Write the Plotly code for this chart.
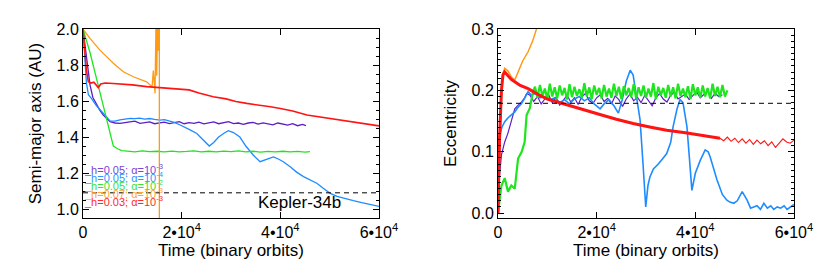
import plotly.graph_objects as go

# ---------------- data: semi-major axis (left panel) ----------------
a_purple_t = [0, 300, 740, 1420, 2000, 2760, 3400, 4110, 5480, 6500, 7500, 8500, 9530, 10500, 11560, 12500,
              13500, 14500, 15500, 16500, 17500, 18500, 19500, 20500, 21500, 22500, 23500, 24500, 25500, 26500,
              27500, 28500, 29500, 30500, 31500, 32500, 33500, 34500, 35500, 36500, 37500, 38500, 39500, 40500,
              41500, 42500, 43500, 44500, 45200]
a_purple = [2.0, 1.93, 1.84, 1.69, 1.62, 1.578, 1.55, 1.522, 1.485, 1.478, 1.476, 1.480, 1.485, 1.488, 1.476,
            1.478, 1.484, 1.474, 1.480, 1.483, 1.475, 1.479, 1.486, 1.474, 1.480, 1.476, 1.483, 1.473, 1.479,
            1.484, 1.474, 1.480, 1.486, 1.475, 1.478, 1.470, 1.478, 1.481, 1.472, 1.479, 1.474, 1.468, 1.478,
            1.470, 1.466, 1.474, 1.463, 1.470, 1.463]

a_blue_t = [0, 300, 700, 1100, 1700, 2700, 3430, 4500, 5480, 6500, 7500, 8500, 9530, 10500, 11500, 12500, 13500,
            14500, 15600, 16500, 17500, 18500, 19700, 20700, 21700, 23060, 24300, 25600, 26500, 27500, 28500,
            29450, 30500, 31800, 33000, 34500, 35900, 36800, 37700, 38600, 39600, 40600, 42000, 43300, 44700,
            46000, 47400, 48700, 50100, 51500, 53000, 54800, 56500, 58000, 60000]
a_blue = [2.0, 1.85, 1.70, 1.635, 1.615, 1.575, 1.55, 1.52, 1.49, 1.488, 1.495, 1.500, 1.504, 1.502, 1.505,
          1.500, 1.503, 1.498, 1.494, 1.497, 1.490, 1.482, 1.467, 1.455, 1.44, 1.42, 1.385, 1.35, 1.37, 1.40,
          1.42, 1.435, 1.425, 1.40, 1.35, 1.30, 1.263, 1.272, 1.283, 1.29, 1.278, 1.263, 1.235, 1.205, 1.18,
          1.16, 1.143, 1.115, 1.087, 1.07, 1.058, 1.046, 1.035, 1.027, 1.015]

a_green_t = [0, 700, 1420, 2500, 3500, 4500, 5500, 6150, 7000, 7850, 9000, 10500, 12000, 13500, 15000, 16500,
             18000, 19500, 21000, 22500, 24000, 25500, 27000, 28500, 30000, 31500, 33000, 34500, 36000, 37500,
             39000, 40500, 42000, 43500, 45000, 46000]
a_green = [2.0, 1.94, 1.87, 1.751, 1.641, 1.531, 1.421, 1.35, 1.335, 1.325, 1.322, 1.318, 1.323, 1.319, 1.321,
           1.317, 1.322, 1.318, 1.320, 1.323, 1.318, 1.321, 1.317, 1.322, 1.319, 1.323, 1.318, 1.321, 1.316,
           1.320, 1.318, 1.321, 1.317, 1.320, 1.316, 1.319]

a_orange_t = [0, 1420, 3430, 6150, 8170, 10200, 12900, 13700, 14000, 14260, 14450, 14600, 14800, 14950, 15100,
              15250, 15400, 15480, 15480]
a_orange = [2.0, 1.948, 1.883, 1.81, 1.763, 1.735, 1.707, 1.69, 1.68, 1.77, 1.66, 1.643, 2.05, 1.74, 2.05,
            1.88, 2.05, 2.05, 0.9]

a_red_t = [0, 300, 700, 1080, 1600, 2200, 2700, 3100, 3600, 4500, 6150, 8000, 10000, 12900, 15000, 17000, 19700,
           21500, 23500, 26400, 29000, 31000, 33200, 36000, 38000, 40000, 42500, 45400, 48000, 50100, 52500,
           54800, 57500, 59900, 60000]
a_red = [2.0, 1.90, 1.77, 1.707, 1.70, 1.705, 1.69, 1.675, 1.695, 1.70, 1.698, 1.695, 1.69, 1.68, 1.675, 1.672,
         1.665, 1.662, 1.645, 1.624, 1.612, 1.598, 1.587, 1.578, 1.568, 1.559, 1.545, 1.522, 1.512, 1.504, 1.495,
         1.485, 1.474, 1.463, 1.462]

# ---------------- data: eccentricity (right panel) ----------------
e_purple_t = [0, 300, 700, 1360, 2000, 2700, 3400, 4100, 4750, 5400, 5800,
              6500, 7250, 8000, 8750, 9500, 10250, 11000, 11750, 12500, 13250, 14000, 14750, 15500, 16250,
              17000, 17750, 18500, 19250, 20000, 20750, 21500, 22250, 23000, 23750, 24500, 25250, 26000,
              26750, 27500, 28250, 29000, 29750, 30500, 31250, 32000, 32750, 33500, 34250, 35000, 35750,
              36500, 37250, 38000, 38750, 39500, 40250, 41000, 41750, 42500, 43250, 44000, 44750, 45500]
e_purple = [0.0, 0.06, 0.095, 0.116, 0.13, 0.149, 0.170, 0.176, 0.181, 0.188, 0.195,
            0.192, 0.182, 0.190, 0.178, 0.186, 0.193, 0.180, 0.189, 0.176, 0.184, 0.192, 0.181, 0.188, 0.177,
            0.190, 0.195, 0.183, 0.179, 0.188, 0.193, 0.182, 0.187, 0.178, 0.191, 0.185, 0.174, 0.186,
            0.194, 0.183, 0.189, 0.180, 0.192, 0.184, 0.175, 0.188, 0.195, 0.186, 0.181, 0.192, 0.197,
            0.186, 0.190, 0.194, 0.185, 0.191, 0.198, 0.188, 0.193, 0.199, 0.187, 0.195, 0.190, 0.193]

e_blue_t = [0, 150, 340, 800, 1360, 2000, 2700, 3400, 4000, 4700, 5400, 6100, 6800, 7500, 8500, 9500, 10500,
            11500, 12500, 13500, 14500, 15500, 16500, 17500, 18500, 19500, 20700, 21500, 22500, 23500, 24400,
            25200, 26000, 26800, 27400, 28000, 28800, 29400, 29950, 30400, 30800, 31500, 32500, 33500, 34200,
            35000, 35500, 36300, 36900, 37500, 38300, 38800, 39300, 40000, 41000, 42000, 42600, 43000, 44400,
            45500, 46400, 47000, 47800, 48500, 49500, 50000, 50500, 51200, 51800, 52500, 53200, 53900, 54600,
            55300, 55900, 56600, 57300, 58000, 58600, 59300, 60000]
e_blue = [0.0, 0.08, 0.127, 0.14, 0.149, 0.155, 0.160, 0.165, 0.172, 0.178, 0.187, 0.198, 0.192, 0.195, 0.188,
          0.190, 0.184, 0.188, 0.180, 0.185, 0.178, 0.186, 0.190, 0.183, 0.188, 0.178, 0.170, 0.178, 0.185,
          0.175, 0.163, 0.185, 0.215, 0.233, 0.225, 0.19, 0.152, 0.08, 0.010, 0.045, 0.059, 0.072, 0.080,
          0.090, 0.097, 0.115, 0.141, 0.170, 0.185, 0.180, 0.141, 0.09, 0.037, 0.065, 0.086, 0.103, 0.100,
          0.092, 0.054, 0.030, 0.021, 0.018, 0.016, 0.020, 0.035, 0.028, 0.021, 0.008, 0.010, 0.012, 0.006,
          0.016, 0.008, 0.012, 0.006, 0.010, 0.008, 0.012, 0.006, 0.010, 0.014]

e_green_t = [0, 700, 1360, 2030, 2700, 3400, 4070, 4400, 4800, 5400, 5800, 6450, 7100,
             7500, 8000, 8500, 9000, 9500, 10000, 10500, 11000, 11500, 12000, 12500, 13000, 13500, 14000,
             14500, 15000, 15500, 16000, 16500, 17000, 17500, 18000, 18500, 19000, 19500, 20000, 20500,
             21000, 21500, 22000, 22500, 23000, 23500, 24000, 24500, 25000, 25500, 26000, 26500, 27000,
             27500, 28000, 28500, 29000, 29500, 30000, 30500, 31000, 31500, 32000, 32500, 33000, 33500,
             34000, 34500, 35000, 35500, 36000, 36500, 37000, 37500, 38000, 38500, 39000, 39500, 40000,
             40500, 41000, 41500, 42000, 42500, 43000, 43500, 44000, 44500, 45000, 45500, 46000, 46500]
e_green = [0.0, 0.045, 0.057, 0.035, 0.045, 0.04, 0.089, 0.095, 0.10, 0.116, 0.160, 0.171, 0.198,
           0.206, 0.188, 0.209, 0.191, 0.203, 0.186, 0.211, 0.190, 0.205, 0.187,
           0.208, 0.192, 0.204, 0.185, 0.210, 0.189, 0.206, 0.191, 0.202, 0.188,
           0.212, 0.190, 0.205, 0.186, 0.208, 0.193, 0.204, 0.187, 0.209, 0.190,
           0.203, 0.188, 0.211, 0.191, 0.206, 0.186, 0.207, 0.192, 0.204, 0.189,
           0.210, 0.187, 0.205, 0.191, 0.208, 0.188, 0.203, 0.190, 0.212, 0.186,
           0.206, 0.192, 0.204, 0.188, 0.209, 0.190, 0.205, 0.187, 0.211, 0.191,
           0.203, 0.189, 0.207, 0.186, 0.210, 0.192, 0.205, 0.188, 0.208, 0.190,
           0.204, 0.187, 0.211, 0.191, 0.206, 0.189, 0.209, 0.190, 0.200]

e_orange_t = [0, 300, 700, 1000, 1360, 2000, 2700, 3400, 4200, 5000, 6100, 7000, 7800, 8500]
e_orange = [0.0, 0.10, 0.19, 0.228, 0.236, 0.232, 0.222, 0.217, 0.232, 0.248, 0.263, 0.28, 0.30, 0.315]

e_red_t = [0, 300, 700, 1000, 1360, 2000, 2700, 3400, 4500, 6100, 8000, 10000, 12900, 16000, 21000, 24000,
           27400, 31000, 34200, 38000, 41000, 44000,
           45000, 45750, 46500, 47250, 48000, 48750, 49500, 50250, 51000, 51750, 52500, 53250, 54000, 54750,
           55500, 56250, 57000, 57750, 58500, 59250, 60000]
e_red = [0.0, 0.12, 0.20, 0.225, 0.230, 0.224, 0.218, 0.214, 0.208, 0.203, 0.194, 0.186, 0.179, 0.171, 0.160,
         0.153, 0.146, 0.140, 0.135, 0.131, 0.127, 0.124,
         0.122, 0.118, 0.124, 0.117, 0.122, 0.115, 0.121, 0.114, 0.120, 0.112, 0.119, 0.113, 0.118, 0.110,
         0.116, 0.107, 0.114, 0.121, 0.116, 0.114, 0.119]
e_red_thick_end = 22  # index where the noisy thick band turns into a thin line

kepler34b_a = 1.09
kepler34b_e = 0.179

x_tickvals = [0, 20000, 40000, 60000]
x_ticktext = ["0", "2•10<sup>4</sup>", "4•10<sup>4</sup>", "6•10<sup>4</sup>"]

legend_labels = ["h=0.05; α=10<sup>-3</sup>", "h=0.05; α=10<sup>-4</sup>", "h=0.05; α=10<sup>-2</sup>",
                 "h=0.07; α=10<sup>-3</sup>", "h=0.03; α=10<sup>-3</sup>"]

C_PURPLE = "#5a1ec8"
C_BLUE = "#1e8cff"
C_GREEN = "#1ee61e"
C_ORANGE = "#ff9a14"
C_RED = "#ff1414"
legend_colors = ["#7a46d8", "#2f95ff", "#36e336", "#ffa530", "#ff2a2a"]

FONT = "Liberation Sans, Arial, Helvetica, sans-serif"

fig = go.Figure()

def add(x, y, color, width, xa, ya):
    fig.add_trace(go.Scatter(x=x, y=y, mode="lines", line=dict(color=color, width=width),
                             xaxis=xa, yaxis=ya, showlegend=False, hoverinfo="skip"))

# left panel
add(a_purple_t, a_purple, C_PURPLE, 1.3, "x", "y")
add(a_blue_t, a_blue, C_BLUE, 1.3, "x", "y")
add(a_green_t, a_green, C_GREEN, 1.3, "x", "y")
add(a_orange_t, a_orange, C_ORANGE, 1.3, "x", "y")
add(a_red_t, a_red, C_RED, 1.6, "x", "y")

# right panel
add(e_orange_t, e_orange, C_ORANGE, 1.5, "x2", "y2")
add(e_purple_t, e_purple, C_PURPLE, 1.2, "x2", "y2")
add(e_blue_t, e_blue, C_BLUE, 1.6, "x2", "y2")
add(e_green_t, e_green, C_GREEN, 2.2, "x2", "y2")
add(e_red_t[:e_red_thick_end + 1], e_red[:e_red_thick_end + 1], C_RED, 3.0, "x2", "y2")
add(e_red_t[e_red_thick_end:], e_red[e_red_thick_end:], C_RED, 1.1, "x2", "y2")

axis_common = dict(showline=True, linecolor="black", linewidth=1, mirror="ticks", ticks="inside",
                   ticklen=6, tickcolor="black", showgrid=False, zeroline=False, automargin=False,
                   tickfont=dict(family=FONT, size=16, color="black"))

fig.update_layout(
    width=830, height=277, margin=dict(l=0, r=0, t=0, b=0),
    paper_bgcolor="white", plot_bgcolor="white",
    font=dict(family=FONT, color="black"),
    xaxis=dict(domain=[0.1, 0.4566], range=[0, 60000], tickvals=x_tickvals, ticktext=x_ticktext,
               title=dict(text="Time (binary orbits)", font=dict(size=17), standoff=2), anchor="y",
               **axis_common),
    yaxis=dict(domain=[0.213, 0.895], range=[0.95, 2.0], tickvals=[1.0, 1.2, 1.4, 1.6, 1.8, 2.0],
               ticktext=["1.0", "1.2", "1.4", "1.6", "1.8", "2.0"],
               minor=dict(dtick=0.05, tick0=1.0, ticks="inside", ticklen=3, tickcolor="black"),
               title=dict(text="Semi-major axis (AU)", font=dict(size=17), standoff=10), anchor="x",
               **axis_common),
    xaxis2=dict(domain=[0.6, 0.9566], range=[0, 60000], tickvals=x_tickvals, ticktext=x_ticktext,
                title=dict(text="Time (binary orbits)", font=dict(size=17), standoff=2), anchor="y2",
                **axis_common),
    yaxis2=dict(domain=[0.213, 0.895], range=[-0.008, 0.3], tickvals=[0.0, 0.1, 0.2, 0.3],
                ticktext=["0.0", "0.1", "0.2", "0.3"],
                minor=dict(dtick=0.01, tick0=0.0, ticks="inside", ticklen=3, tickcolor="black"),
                title=dict(text="Eccentricity", font=dict(size=17), standoff=10), anchor="x2",
                **axis_common),
)

# Kepler-34b reference lines
fig.add_shape(type="line", xref="x domain", yref="y", x0=0, x1=1, y0=kepler34b_a, y1=kepler34b_a,
              line=dict(color="black", width=1, dash="5px,4px"))
fig.add_shape(type="line", xref="x2 domain", yref="y2", x0=0, x1=1, y0=kepler34b_e, y1=kepler34b_e,
              line=dict(color="black", width=1, dash="5px,4px"))

fig.add_annotation(x=43800, y=1.035, xref="x", yref="y", text="Kepler-34b", showarrow=False,
                   font=dict(family=FONT, size=17, color="black"))

# legend (IDL style coloured labels)
legend_y = [1.222, 1.178, 1.136, 1.089, 1.044]
for lab, col, yy in zip(legend_labels, legend_colors, legend_y):
    fig.add_annotation(x=0, y=yy, xref="x", yref="y", text="_" + lab, showarrow=False,
                       xanchor="left", yanchor="middle", borderpad=0,
                       font=dict(family=FONT, size=11, color=col))

fig.write_html("out.html", config={"displayModeBar": False},
               post_script="document.body.style.margin='0';")
